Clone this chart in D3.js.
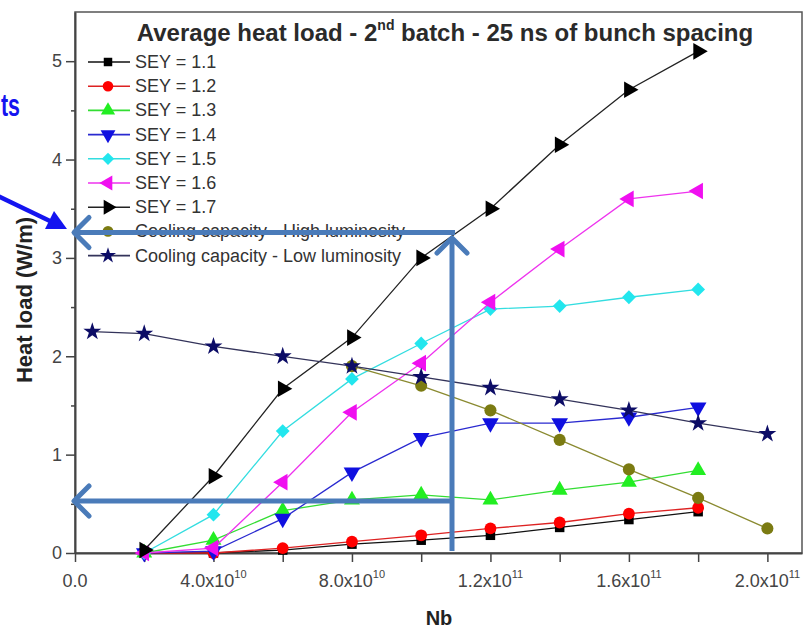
<!DOCTYPE html>
<html>
<head>
<meta charset="utf-8">
<script src="https://cdn.jsdelivr.net/npm/d3@7"></script>
<style>
  body { margin: 0; background: #fff; }
  svg { display: block; font-family: "Liberation Sans", Arial, sans-serif; }
</style>
</head>
<body>
<svg id="chart" width="806" height="631"></svg>
<script>
// Nb values (bunch population) for the SEY curves
var nbSey = [2e10, 4e10, 6e10, 8e10, 10e10, 12e10, 14e10, 16e10, 18e10];
var sey11 = [0, 0, 0.03, 0.09, 0.13, 0.18, 0.26, 0.34, 0.42];
var sey12 = [0, 0, 0.05, 0.115, 0.18, 0.25, 0.31, 0.40, 0.46];
var sey13 = [0, 0.13, 0.43, 0.54, 0.59, 0.54, 0.64, 0.72, 0.84];
var sey14 = [0, 0.02, 0.35, 0.82, 1.17, 1.32, 1.32, 1.38, 1.48];
var sey15 = [0, 0.39, 1.24, 1.77, 2.13, 2.48, 2.51, 2.60, 2.68];
var sey16 = [0, 0.05, 0.72, 1.43, 1.93, 2.55, 3.09, 3.60, 3.68];
var sey17 = [0.03, 0.78, 1.67, 2.19, 3.00, 3.50, 4.15, 4.71, 5.10];

// cooling capacity curves
var nbHigh = [8e10, 10e10, 12e10, 14e10, 16e10, 18e10, 20e10];
var coolHigh = [1.90, 1.70, 1.45, 1.15, 0.85, 0.56, 0.25];
var nbLow = [0.5e10, 2e10, 4e10, 6e10, 8e10, 10e10, 12e10, 14e10, 16e10, 18e10, 20e10];
var coolLow = [2.25, 2.23, 2.10, 2.00, 1.90, 1.79, 1.68, 1.565, 1.45, 1.32, 1.21];

var legendLabels = ["SEY = 1.1", "SEY = 1.2", "SEY = 1.3", "SEY = 1.4", "SEY = 1.5",
                    "SEY = 1.6", "SEY = 1.7", "Cooling capacity - High luminosity",
                    "Cooling capacity - Low luminosity"];
var yTicks = [0, 1, 2, 3, 4, 5];
var xTickMajor = [0, 4e10, 8e10, 12e10, 16e10, 20e10];
var xTickLabels = [["0.0", ""], ["4.0x10", "10"], ["8.0x10", "10"], ["1.2x10", "11"], ["1.6x10", "11"], ["2.0x10", "11"]];
var xTickMinor = [2e10, 6e10, 10e10, 14e10, 18e10];

(function(){
    var svg = d3.select("#chart");

    var x = d3.scaleLinear().domain([0, 2.1e11]).range([75, 802]);
    var y = d3.scaleLinear().domain([0, 5.5]).range([553, 12]);

    // series styles, in legend order
    var series = [
        {xs: nbSey, ys: sey11, color: "#000000", line: "#111111", shape: d3.symbolSquare, rot: 0, size: 90},
        {xs: nbSey, ys: sey12, color: "#ff0000", line: "#dd2222", shape: d3.symbolCircle, rot: 0, size: 110},
        {xs: nbSey, ys: sey13, color: "#22ee22", line: "#33dd33", shape: d3.symbolTriangle, rot: 0, size: 110},
        {xs: nbSey, ys: sey14, color: "#1010e0", line: "#2a2ad0", shape: d3.symbolTriangle, rot: 180, size: 120},
        {xs: nbSey, ys: sey15, color: "#22e6ee", line: "#33dde0", shape: d3.symbolSquare, rot: 45, size: 95},
        {xs: nbSey, ys: sey16, color: "#f010f0", line: "#ee33ee", shape: d3.symbolTriangle, rot: -90, size: 120},
        {xs: nbSey, ys: sey17, color: "#000000", line: "#222222", shape: d3.symbolTriangle, rot: 90, size: 120},
        {xs: nbHigh, ys: coolHigh, color: "#7b7b12", line: "#8a8a30", shape: d3.symbolCircle, rot: 0, size: 115},
        {xs: nbLow, ys: coolLow, color: "#0c0c66", line: "#33335a", shape: d3.symbolStar, rot: 0, size: 100}
    ];

    // frame
    svg.append("rect")
        .attr("x", x(0)).attr("y", y(5.5))
        .attr("width", x(2.1e11) - x(0)).attr("height", y(0) - y(5.5))
        .attr("fill", "none").attr("stroke", "#555").attr("stroke-width", 1.5);

    // y axis
    var yAxis = svg.append("g").attr("transform", "translate(" + x(0) + ",0)")
        .call(d3.axisLeft(y).tickValues(yTicks).tickSize(9).tickSizeOuter(0).tickPadding(4).tickFormat(d3.format("d")));
    yAxis.select(".domain").attr("stroke", "#444").attr("stroke-width", 2);
    yAxis.selectAll(".tick line").attr("stroke", "#444").attr("stroke-width", 1.5);
    yAxis.selectAll(".tick text").attr("font-size", 18).attr("fill", "#444");
    svg.append("g").attr("transform", "translate(" + x(0) + ",0)")
        .call(d3.axisLeft(y).tickValues([0.5, 1.5, 2.5, 3.5, 4.5]).tickSize(4).tickFormat(""))
        .call(function(g) { g.select(".domain").remove(); g.selectAll("line").attr("stroke", "#444").attr("stroke-width", 1.5); });

    // x axis
    var xAxis = svg.append("g").attr("transform", "translate(0," + y(0) + ")")
        .call(d3.axisBottom(x).tickValues(xTickMajor.concat(xTickMinor)).tickSize(9).tickSizeOuter(0).tickFormat(""));
    xAxis.select(".domain").attr("stroke", "#444").attr("stroke-width", 2);
    xAxis.selectAll(".tick line").attr("stroke", "#444").attr("stroke-width", 1.5);

    xTickMajor.forEach(function(v, i) {
        var t = svg.append("text")
            .attr("x", x(v)).attr("y", 587)
            .attr("text-anchor", "middle").attr("font-size", 18).attr("fill", "#444");
        t.append("tspan").text(xTickLabels[i][0]);
        if (xTickLabels[i][1]) {
            t.append("tspan").attr("dy", -9).attr("font-size", 11).text(xTickLabels[i][1]);
        }
    });

    // axis titles
    svg.append("text").attr("x", 439).attr("y", 625).attr("text-anchor", "middle")
        .attr("font-size", 20).attr("font-weight", "bold").attr("fill", "#222").text("Nb");
    svg.append("text").attr("transform", "translate(32,300) rotate(-90)").attr("text-anchor", "middle")
        .attr("font-size", 22).attr("font-weight", "bold").attr("fill", "#222").text("Heat load (W/m)");

    // title
    var title = svg.append("text").attr("x", 445).attr("y", 41).attr("text-anchor", "middle")
        .attr("font-size", 24).attr("font-weight", "bold").attr("fill", "#2a2a2a");
    title.append("tspan").text("Average heat load - 2");
    title.append("tspan").attr("dy", -11).attr("font-size", 14).text("nd");
    title.append("tspan").attr("dy", 11).text(" batch - 25 ns of bunch spacing");

    // lines and markers
    var line = d3.line().x(function(d) { return x(d[0]); }).y(function(d) { return y(d[1]); });
    series.forEach(function(s) {
        var pts = s.xs.map(function(v, i) { return [v, s.ys[i]]; });
        svg.append("path").datum(pts).attr("d", line)
            .attr("fill", "none").attr("stroke", s.line).attr("stroke-width", 1.3);
        svg.append("g").selectAll("path").data(pts).enter().append("path")
            .attr("d", d3.symbol().type(s.shape).size(s.size))
            .attr("transform", function(d) { return "translate(" + x(d[0]) + "," + y(d[1]) + ") rotate(" + s.rot + ")"; })
            .attr("fill", s.color);
    });

    // legend
    var lg = svg.append("g");
    legendLabels.forEach(function(lab, i) {
        var s = series[i];
        var cy = 62 + i * 24.2;
        lg.append("line").attr("x1", 88).attr("x2", 130).attr("y1", cy).attr("y2", cy)
            .attr("stroke", s.line).attr("stroke-width", 1.6);
        lg.append("path").attr("d", d3.symbol().type(s.shape).size(s.size * 0.8))
            .attr("transform", "translate(108," + cy + ") rotate(" + s.rot + ")")
            .attr("fill", s.color);
        lg.append("text").attr("x", 135).attr("y", cy + 6).attr("font-size", 18)
            .attr("fill", "#333").text(lab);
    });

    // annotations drawn over the chart
    var ANNO = "#4a7bb9";
    function chevron(tx, ty, dir) {
        var a = 15;
        var p = dir === "left"
            ? [[tx + a, ty - a], [tx, ty], [tx + a, ty + a]]
            : [[tx - a, ty + a], [tx, ty], [tx + a, ty + a]];
        svg.append("path").attr("d", d3.line()(p)).attr("fill", "none")
            .attr("stroke", ANNO).attr("stroke-width", 5).attr("stroke-linecap", "round").attr("stroke-linejoin", "round");
    }
    function seg(x1, y1, x2, y2) {
        svg.append("line").attr("x1", x1).attr("y1", y1).attr("x2", x2).attr("y2", y2)
            .attr("stroke", ANNO).attr("stroke-width", 5);
    }
    seg(455, 232.5, 74, 232.5);
    chevron(74, 232.5, "left");
    seg(452, 551, 452, 238);
    chevron(452, 238, "up");
    seg(451, 501, 74, 501);
    chevron(74, 501, "left");

    // blue pointer arrow and text on the left edge
    var BLUE = "#1414f0";
    svg.append("line").attr("x1", -2).attr("y1", 196).attr("x2", 52).attr("y2", 222)
        .attr("stroke", BLUE).attr("stroke-width", 4.5);
    svg.append("path").attr("d", "M67,229 L45,229 L54,211 Z").attr("fill", BLUE);
    svg.append("text").attr("x", 1).attr("y", 116)
        .attr("font-size", 32).attr("font-weight", "bold").attr("fill", BLUE)
        .attr("textLength", 19).attr("lengthAdjust", "spacingAndGlyphs").text("ts");
})();
</script>
</body>
</html>
